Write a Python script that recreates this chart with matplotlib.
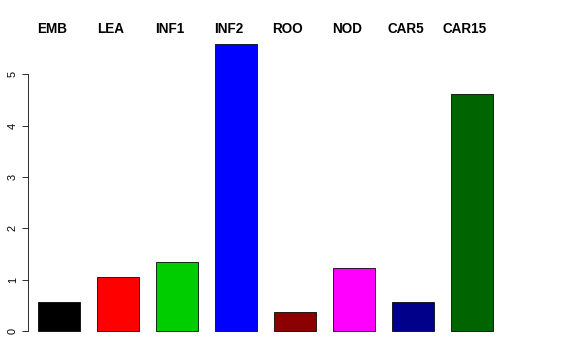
import matplotlib.pyplot as plt

# bar values
labels = ["EMB", "LEA", "INF1", "INF2", "ROO", "NOD", "CAR5", "CAR15"]
values = [0.56, 1.05, 1.34, 5.60, 0.37, 1.23, 0.56, 4.61]
colors = ["black", "red", "#00CD00", "blue", "#8B0000", "magenta", "#00008B", "#006400"]

plt.rcParams['font.family'] = ['Liberation Sans', 'DejaVu Sans']

fig = plt.figure(figsize=(8, 5), dpi=72)
ax = fig.add_axes([28 / 576, 17.5 / 360, (552 - 28) / 576, 310.5 / 360])

x = list(range(len(values)))
ax.bar(x, values, width=0.71, color=colors, edgecolor="black", linewidth=0.8)

ax.set_xlim(-0.5254, 8.356)
ax.set_ylim(-0.224, 5.824)

for s in ["top", "right", "bottom"]:
    ax.spines[s].set_visible(False)
ax.spines["left"].set_bounds(0, 5)
ax.spines["left"].set_linewidth(0.8)
ax.set_xticks([])
ax.set_yticks(range(6))
ax.set_yticklabels([str(i) for i in range(6)], rotation=90, va="center", fontsize=11)
ax.tick_params(axis="y", length=6, width=0.8, pad=4)

# group labels along the top
for i, lab in enumerate(labels):
    ax.annotate(lab, xy=(i - 0.12, 0.997), xycoords=("data", "axes fraction"),
                ha="center", va="baseline", fontsize=13.5, fontweight="bold")

fig.savefig("out.png", dpi=72)
